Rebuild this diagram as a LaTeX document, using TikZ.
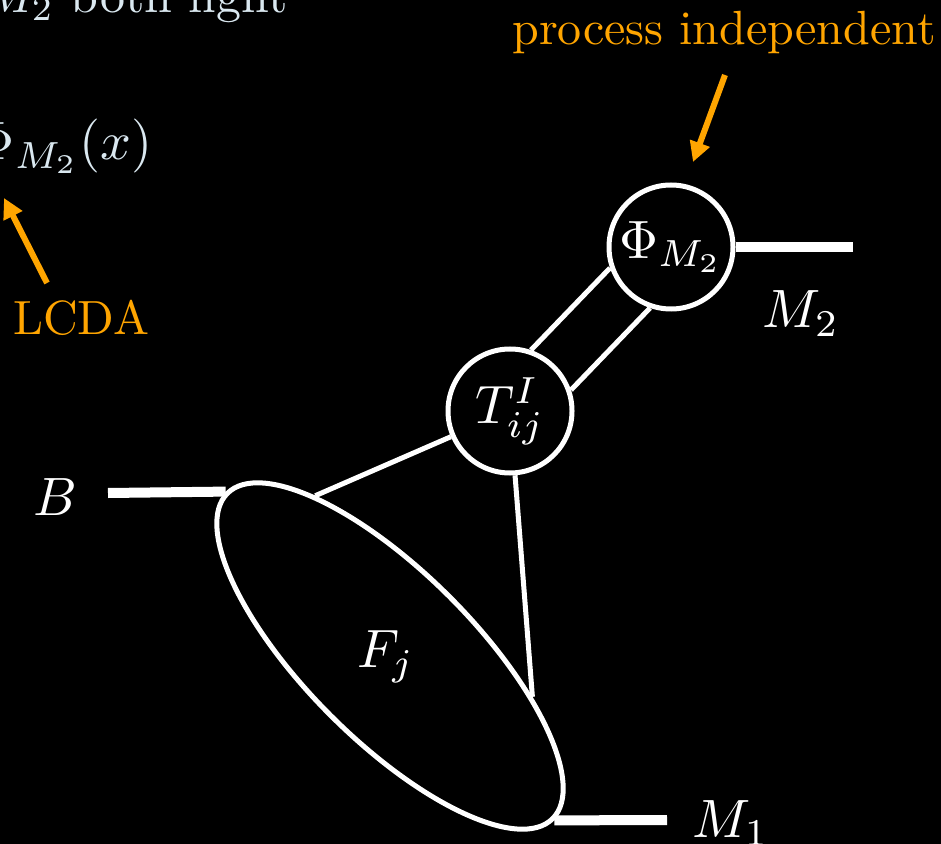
\documentclass[tikz,border=0pt]{standalone}
\usepackage{graphicx}
\usetikzlibrary{shapes.geometric,arrows.meta}
\definecolor{annot}{RGB}{255,165,0}
\definecolor{pale}{RGB}{218,232,240}
\newcommand\labtxt[1]{\scalebox{2.7}{\fontsize{10}{12}\selectfont #1}}
\newcommand\anntxt[1]{\scalebox{2.4}{\fontsize{10}{12}\selectfont #1}}
\newcommand\toptxt[1]{\scalebox{2.5}{\fontsize{10}{12}\selectfont #1}}
\begin{document}
\begin{tikzpicture}[x=0.5pt,y=-0.5pt,
  wire/.style={white,line width=2.5pt},
  leg/.style={white,line width=5pt},
  blob/.style={circle,draw=white,line width=2.5pt,minimum size=62pt,inner sep=0pt,text=white},
  oval/.style={ellipse,draw=white,line width=2.5pt,inner sep=0pt,minimum width=230pt,minimum height=84pt},
  lab/.style={text=white,inner sep=0pt},
  ann/.style={text=annot,inner sep=0pt},
  paletext/.style={text=pale,inner sep=0pt},
  arr/.style={annot,line width=3pt,-{Triangle[length=10pt,width=10pt]}}]
\fill[black] (0,0) rectangle (941,844);
\useasboundingbox (0,0) rectangle (941,844);
\clip (0,0) rectangle (941,844);

% blobs
\node[blob] (P) at (671,247) {\labtxt{$\Phi_{M_2}$}};
\node[blob] (T) at (510,411) {\labtxt{$T^I_{ij}$}};
\node[oval,rotate=-45] (F) at (390,656) {};
\node[lab] (Fl) at (386,657) {\labtxt{$F_j$}};

% external legs
\coordinate (Bend) at (108,493);
\coordinate (M1end) at (667,820);
\coordinate (M2end) at (853,247);
\draw[leg] (Bend) -- (F.west);
\draw[leg] (F.east) -- (M1end);
\draw[leg] (P.east) -- (M2end);

% internal wires
\draw[wire] (T.71.5) -- (P.199.5);
\draw[wire] (T.19.5) -- (P.251.5);
\draw[wire] (T) -- (F.160);
\draw[wire] (T) -- (F.29);

% labels
\node[lab,anchor=base] (Bl) at (55,515) {\labtxt{$B$}};
\node[lab,anchor=base] (M2l) at (801,328) {\labtxt{$M_2$}};
\node[lab,anchor=base west] (M1l) at (692,837) {\labtxt{$M_1$}};

% annotations
\node[ann,anchor=base] (pi) at (724,45) {\anntxt{process independent}};
\coordinate (piA) at (725,75);
\coordinate (piB) at (693,162);
\draw[arr] (piA) -- (piB);
\node[ann,anchor=base] (lcda) at (81,335) {\anntxt{LCDA}};
\coordinate (lA) at (47,283);
\coordinate (lB) at (4,198);
\draw[arr] (lA) -- (lB);

% cut-off texts
\node[paletext,anchor=base east] (top) at (288,13) {\toptxt{$M_2$ both light}};
\node[paletext,anchor=base east] (phix) at (153,160) {\labtxt{$\Phi_{M_2}(x)$}};
\end{tikzpicture}
\end{document}
